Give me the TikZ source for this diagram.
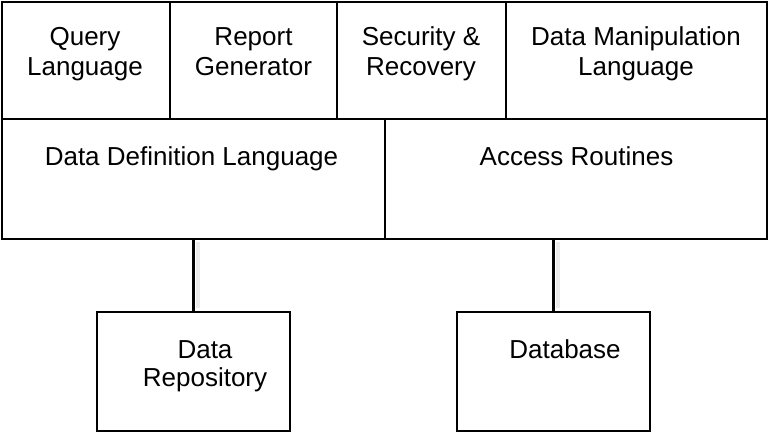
\documentclass[tikz,border=0pt]{standalone}
\usepackage{fontspec}
\setmainfont{Liberation Sans}
\begin{document}
\begin{tikzpicture}[x=1pt,y=-1pt,
  box/.style={draw=black,line width=1.6pt,fill=white},
  divider/.style={draw=black,line width=2.5pt},
  lbl/.style={font=\fontsize{26}{30}\selectfont,align=center,inner sep=0pt,anchor=base},
  link/.style={draw=black,line width=2.2pt},
  glow/.style={draw=black!8,line width=4pt}]
\useasboundingbox (0,0) rectangle (769,433);
% top row of components
\path[box] (2,2) rectangle (170,119);
\path[box] (170,2) rectangle (337,119);
\path[box] (337,2) rectangle (506,119);
\path[box] (506,2) rectangle (767,119);
% second row
\path[box] (2,119) rectangle (385,239);
\path[box] (385,119) rectangle (767,239);
% storage
\path[box] (97,312) rectangle (290,431);
\path[box] (457,312) rectangle (650,431);
% thicker vertical dividers
\draw[divider] (170,2) -- (170,119) (337,2) -- (337,119) (506,2) -- (506,119) (385,119) -- (385,239);
\node[lbl] (ql) at (85,76) {Query\\Language};
\node[lbl] (rg) at (253.5,76) {Report\\Generator};
\node[lbl] (sr) at (421,76) {Security \&\\Recovery};
\node[lbl] (dml) at (636,76) {Data Manipulation\\Language};
\node[lbl] (ddl) at (191.5,166) {Data Definition Language};
\node[lbl] (ar) at (576.5,166) {Access Routines};
\node[lbl,font=\fontsize{26}{28}\selectfont] (dr) at (205,386) {Data\\Repository};
\node[lbl] (db) at (565,358) {Database};
\coordinate (ddlb) at (193.5,239);
\coordinate (drt) at (193.5,312);
\coordinate (arb) at (553.5,239);
\coordinate (dbt) at (553.5,312);
% soft shade beside the links
\path[glow] ([xshift=4pt,yshift=-3pt]ddlb) -- ([xshift=4pt,yshift=4pt]drt);
\path[glow] ([xshift=4pt,yshift=-3pt]arb) -- ([xshift=4pt,yshift=4pt]dbt);
\draw[link] (ddlb) -- (drt);
\draw[link] (arb) -- (dbt);
\end{tikzpicture}
\end{document}
